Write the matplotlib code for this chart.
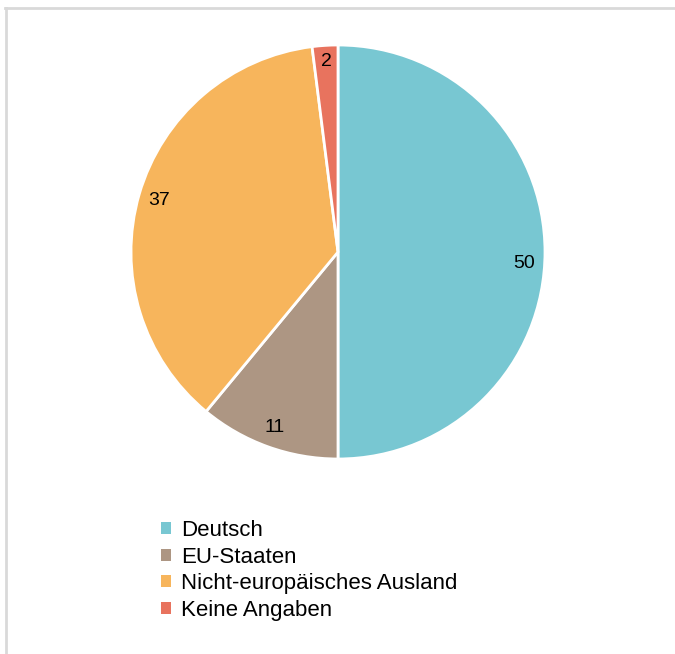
import numpy as np
import matplotlib.pyplot as plt
from matplotlib.lines import Line2D
from matplotlib.patches import Patch

categories = ['Deutsch', 'EU-Staaten', 'Nicht-europäisches Ausland', 'Keine Angaben']
values = [50, 11, 37, 2]
colors = ['#78c7d2', '#ad9683', '#f7b55c', '#e8735e']

plt.rcParams['font.family'] = ['Liberation Sans', 'DejaVu Sans']

W, H = 675, 654
fig = plt.figure(figsize=(W / 100, H / 100), dpi=100)

# pie: center (338, 252) px, radius 207 px
cx, cy, r = 338, 252, 207
ax = fig.add_axes([(cx - r) / W, (H - cy - r) / H, 2 * r / W, 2 * r / H])
wedges, texts, autotexts = ax.pie(values, colors=colors, startangle=90, counterclock=False,
                                  radius=1, autopct=lambda p: '%d' % round(p),
                                  pctdistance=0.9,
                                  wedgeprops=dict(edgecolor='white', linewidth=2),
                                  textprops=dict(fontsize=14, color='black'))
# the big slice's label sits a little lower in the original
x0, y0 = autotexts[0].get_position()
autotexts[0].set_position((x0, y0 - 0.055))
x3, y3 = autotexts[3].get_position()
autotexts[3].set_position((x3, y3 + 0.02))
ax.set_xlim(-1, 1)
ax.set_ylim(-1, 1)
ax.set_aspect('equal')
ax.axis('off')

# legend
handles = [Patch(facecolor=c, edgecolor='none') for c in colors]
fig.legend(handles, categories, loc='upper left', bbox_to_anchor=(161 / W, 1 - 520 / H),
           frameon=False, fontsize=16, handlelength=0.45, handleheight=0.45,
           handletextpad=0.45, labelspacing=0.25, borderaxespad=0, borderpad=0)

# light frame on top and left
fig.add_artist(Line2D([5 / W, 1], [1 - 8 / H, 1 - 8 / H], color='#d9d9d9', lw=2,
                      transform=fig.transFigure))
fig.add_artist(Line2D([6 / W, 6 / W], [0, 1 - 8 / H], color='#d9d9d9', lw=2,
                      transform=fig.transFigure))

fig.savefig('out.png', dpi=100)
